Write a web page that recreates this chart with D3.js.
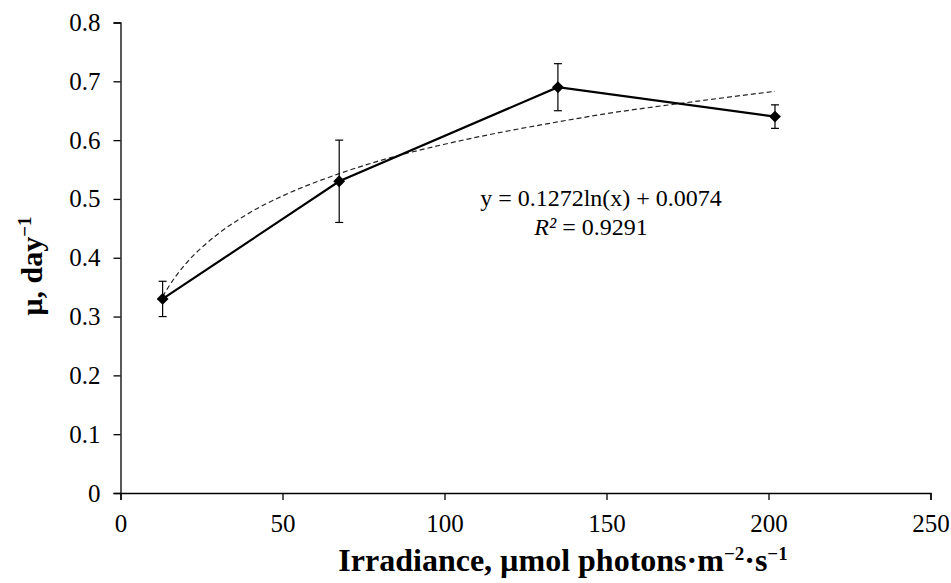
<!DOCTYPE html>
<html>
<head>
<meta charset="utf-8">
<script src="https://cdn.jsdelivr.net/npm/d3@7"></script>
<style>
  body { margin: 0; background: #fff; }
  text { font-family: "Liberation Serif", "Times New Roman", serif; fill: #000; }
</style>
</head>
<body>
<div id="chart"></div>
<script>
// measured growth rate vs irradiance
const irradiance = [13, 67.5, 135, 202];
const growth = [0.33, 0.53, 0.69, 0.64];
const growthErr = [0.03, 0.07, 0.04, 0.02];

// logarithmic trend line
const trendX = [13, 15, 20, 25, 30, 40, 50, 67.5, 80, 100, 120, 135, 150, 175, 202];
const trendY = [0.334, 0.352, 0.389, 0.417, 0.44, 0.477, 0.505, 0.543, 0.565, 0.593, 0.616, 0.631, 0.645, 0.664, 0.683];

const xTicks = [0, 50, 100, 150, 200, 250];
const yTicks = [0, 0.1, 0.2, 0.3, 0.4, 0.5, 0.6, 0.7, 0.8];

const width = 951, height = 583;
const margin = { top: 22.5, right: 20.5, bottom: 90, left: 120.5 };
const w = width - margin.left - margin.right,
  h = height - margin.top - margin.bottom;

const svg = d3
  .select("#chart")
  .append("svg")
  .attr("width", width)
  .attr("height", height);

const g = svg
  .append("g")
  .attr("transform", "translate(" + margin.left + "," + margin.top + ")");

const x = d3.scaleLinear().domain([0, 250]).range([0, w]);
const y = d3.scaleLinear().domain([0, 0.8]).range([h, 0]);

// axes
const xAxis = g
  .append("g")
  .attr("transform", "translate(0," + h + ")")
  .call(d3.axisBottom(x).tickValues(xTicks).tickSize(7).tickPadding(14).tickFormat(d3.format("d")));

const yAxis = g
  .append("g")
  .call(d3.axisLeft(y).tickValues(yTicks).tickSize(7).tickPadding(13).tickFormat(d => d === 0 ? "0" : d3.format(".1f")(d)));

[xAxis, yAxis].forEach(a => {
  a.selectAll("path, line").attr("stroke", "#000").attr("stroke-width", 1.3);
  a.selectAll("text").style("font-size", "25px").style("font-family", "Liberation Serif, serif");
});

// axis titles
svg
  .append("text")
  .attr("x", 563)
  .attr("y", 571)
  .attr("text-anchor", "middle")
  .style("font-size", "32px")
  .style("font-weight", "bold")
  .html('Irradiance, µmol photons·m<tspan dy="-11" font-size="19">−2</tspan><tspan dy="11">·s</tspan><tspan dy="-11" font-size="19">−1</tspan>');

svg
  .append("text")
  .attr("transform", "translate(42,266) rotate(-90)")
  .attr("text-anchor", "middle")
  .style("font-size", "30px")
  .style("font-weight", "bold")
  .html('μ, day<tspan dy="-11" font-size="19">−1</tspan>');

// trend line
const trendLine = d3
  .line()
  .curve(d3.curveMonotoneX)
  .x(d => x(d[0]))
  .y(d => y(d[1]));

g.append("path")
  .datum(d3.zip(trendX, trendY))
  .attr("fill", "none")
  .attr("stroke", "#222")
  .attr("stroke-width", 1.2)
  .attr("stroke-dasharray", "5,3")
  .attr("d", trendLine);

// data line
const data = irradiance.map((d, i) => ({ x: d, y: growth[i], e: growthErr[i] }));

g.append("path")
  .datum(data)
  .attr("fill", "none")
  .attr("stroke", "#000")
  .attr("stroke-width", 2.2)
  .attr("d", d3.line().x(d => x(d.x)).y(d => y(d.y)));

// error bars
const bars = g.append("g").attr("stroke", "#000").attr("stroke-width", 1.2);
data.forEach(d => {
  bars.append("line")
    .attr("x1", x(d.x)).attr("x2", x(d.x))
    .attr("y1", y(d.y - d.e)).attr("y2", y(d.y + d.e));
  [d.y - d.e, d.y + d.e].forEach(v => {
    bars.append("line")
      .attr("x1", x(d.x) - 4).attr("x2", x(d.x) + 4)
      .attr("y1", y(v)).attr("y2", y(v));
  });
});

// diamond markers
g.selectAll(".marker")
  .data(data)
  .join("path")
  .attr("class", "marker")
  .attr("transform", d => "translate(" + x(d.x) + "," + y(d.y) + ")")
  .attr("d", d3.symbol().type(d3.symbolDiamond2).size(90))
  .attr("fill", "#000");

// equation label
const eq = g.append("text")
  .attr("x", 601 - margin.left)
  .attr("y", 206 - margin.top)
  .attr("text-anchor", "middle")
  .style("font-size", "24px");
eq.append("tspan").text("y = 0.1272ln(x) + 0.0074");

const r2 = g.append("text")
  .attr("x", 591 - margin.left)
  .attr("y", 235 - margin.top)
  .attr("text-anchor", "middle")
  .style("font-size", "24px");
r2.append("tspan").style("font-style", "italic").text("R²");
r2.append("tspan").text(" = 0.9291");
</script>
</body>
</html>
